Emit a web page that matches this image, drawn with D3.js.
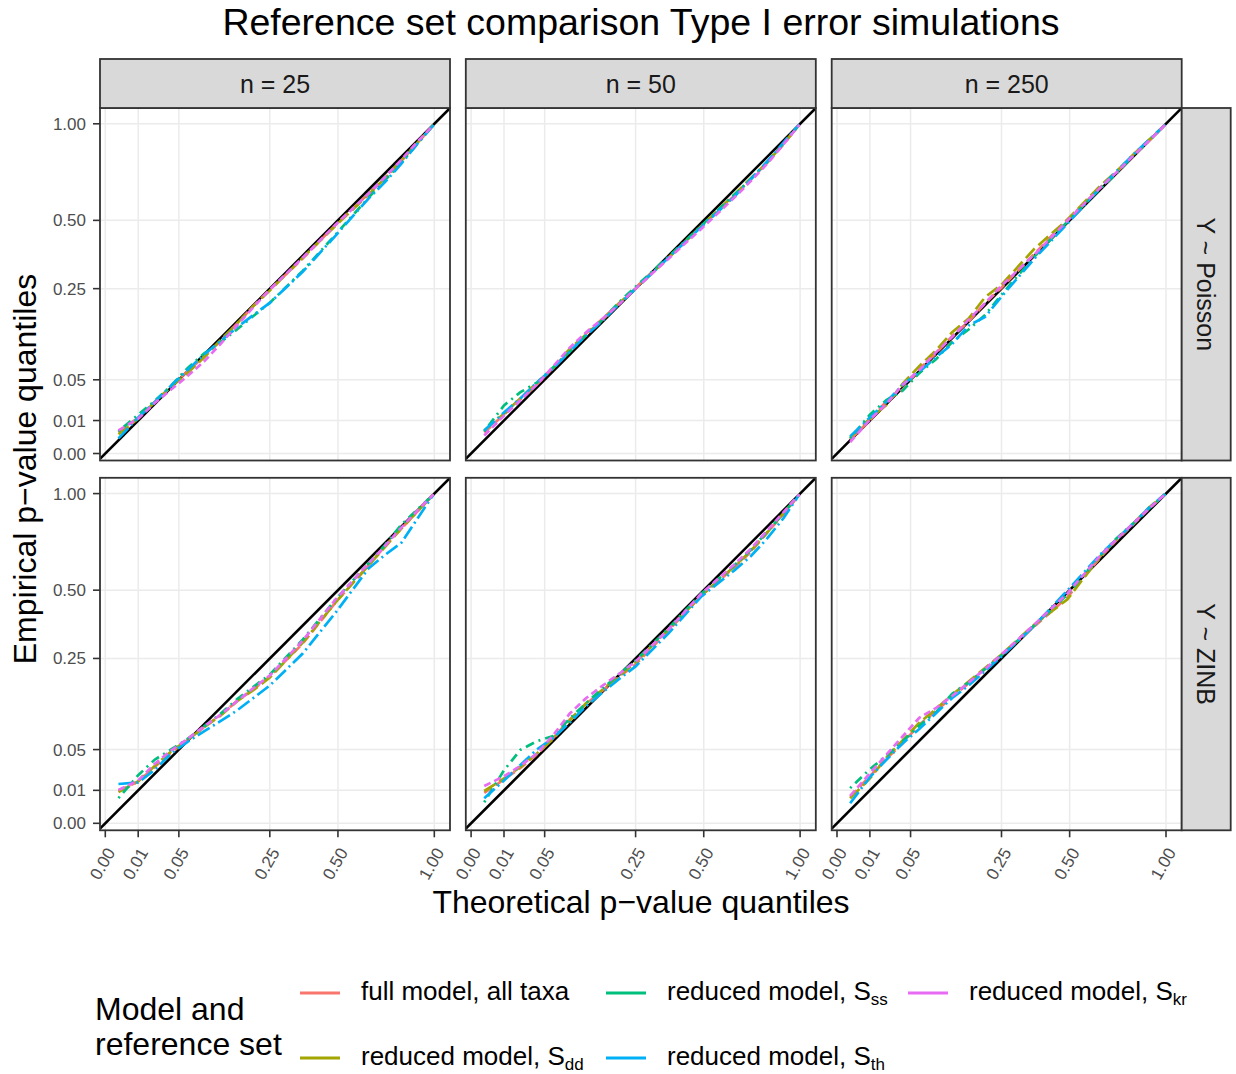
<!DOCTYPE html>
<html>
<head>
<meta charset="utf-8">
<script src="https://cdn.jsdelivr.net/npm/d3@7"></script>
<style>
  body { margin: 0; background: #fff; }
  text { font-family: "Liberation Sans", Arial, Helvetica, sans-serif; }
</style>
</head>
<body>
<svg id="chart" width="1236" height="1074"></svg>
<script>
// facets
const sampleSizes = ['n = 25', 'n = 50', 'n = 250']
const models = ['Y ~ Poisson', 'Y ~ ZINB']

// series (order = ggplot factor order)
const seriesLabels = ['full model, all taxa', 'reduced model, S', 'reduced model, S', 'reduced model, S', 'reduced model, S']
const seriesSubs = ['', 'dd', 'ss', 'th', 'kr']
const seriesColors = ['#F8766D', '#A3A500', '#00BF7D', '#00B0F6', '#E76BF3']
const seriesDash = ['9,5', '13,5', '2,5,9,5', '14,4,2,4', '7,4']

// axis ticks
const tickValues = [0, 0.01, 0.05, 0.25, 0.5, 1]

// theoretical quantiles (shared by every series)
const theoretical = [0.0016, 0.01, 0.0225, 0.04, 0.0625, 0.09, 0.1225, 0.16, 0.2025, 0.25, 0.36, 0.49, 0.64, 0.7225, 0.81, 0.9025, 0.995]

// empirical quantiles, one row per series: full, dd, ss, th, kr
const poisson25 = [
  [0.0041, 0.0119, 0.0243, 0.0412, 0.0625, 0.0864, 0.1163, 0.1552, 0.1998, 0.2470, 0.3493, 0.4816, 0.6209, 0.6972, 0.7885, 0.8911, 0.992],
  [0.0034, 0.0112, 0.0243, 0.0412, 0.0595, 0.0847, 0.1183, 0.1552, 0.1998, 0.2440, 0.3528, 0.4775, 0.6162, 0.6972, 0.7885, 0.8911, 0.992],
  [0.0045, 0.0139, 0.0253, 0.0424, 0.0671, 0.0918, 0.1142, 0.1414, 0.1739, 0.2088, 0.3069, 0.4409, 0.6022, 0.6872, 0.7779, 0.8855, 0.992],
  [0.0021, 0.0119, 0.0243, 0.0424, 0.0640, 0.0900, 0.1163, 0.1459, 0.1764, 0.2088, 0.3036, 0.4369, 0.5975, 0.6773, 0.7726, 0.8855, 0.992],
  [0.0049, 0.0112, 0.0234, 0.0376, 0.0552, 0.0778, 0.1102, 0.1505, 0.1971, 0.2470, 0.3528, 0.4816, 0.6209, 0.7022, 0.7939, 0.8968, 0.992]
]
const poisson50 = [
  [0.0041, 0.0139, 0.0272, 0.0437, 0.0686, 0.0973, 0.1332, 0.1673, 0.2079, 0.2530, 0.3528, 0.4733, 0.6115, 0.6922, 0.7779, 0.8798, 0.994],
  [0.0049, 0.0146, 0.0282, 0.0462, 0.0671, 0.1011, 0.1310, 0.1648, 0.2079, 0.2500, 0.3528, 0.4775, 0.6162, 0.6972, 0.7779, 0.8855, 0.994],
  [0.0045, 0.0213, 0.0346, 0.0462, 0.0686, 0.0955, 0.1289, 0.1648, 0.2107, 0.2560, 0.3564, 0.4775, 0.6162, 0.6922, 0.7832, 0.8855, 0.994],
  [0.0049, 0.0154, 0.0282, 0.0462, 0.0671, 0.0955, 0.1289, 0.1624, 0.2052, 0.2500, 0.3528, 0.4733, 0.6068, 0.6922, 0.7832, 0.8911, 0.996],
  [0.0030, 0.0132, 0.0262, 0.0437, 0.0702, 0.1030, 0.1354, 0.1673, 0.2052, 0.2500, 0.3493, 0.4651, 0.6022, 0.6823, 0.7726, 0.8798, 0.994]
]
const poisson250 = [
  [0.0018, 0.0100, 0.0253, 0.0376, 0.0655, 0.0918, 0.1267, 0.1600, 0.2079, 0.2530, 0.3672, 0.5027, 0.6496, 0.7276, 0.8154, 0.9025, 0.995],
  [0.0024, 0.0112, 0.0216, 0.0449, 0.0702, 0.0973, 0.1354, 0.1673, 0.2247, 0.2621, 0.3856, 0.5027, 0.6593, 0.7327, 0.8208, 0.9082, 0.995],
  [0.0021, 0.0139, 0.0262, 0.0365, 0.0595, 0.0812, 0.1142, 0.1414, 0.1764, 0.2323, 0.3564, 0.4942, 0.6448, 0.7225, 0.8154, 0.9025, 0.995],
  [0.0027, 0.0119, 0.0243, 0.0437, 0.0610, 0.0847, 0.1102, 0.1505, 0.1714, 0.2266, 0.3493, 0.4858, 0.6496, 0.7327, 0.8208, 0.9082, 0.995],
  [0.0012, 0.0106, 0.0225, 0.0437, 0.0640, 0.0936, 0.1246, 0.1648, 0.2079, 0.2591, 0.3636, 0.4984, 0.6496, 0.7276, 0.8154, 0.9025, 0.995]
]
const zinb25 = [
  [0.0096, 0.0161, 0.0292, 0.0462, 0.0640, 0.0847, 0.1082, 0.1369, 0.1656, 0.1980, 0.2970, 0.4489, 0.6115, 0.7073, 0.7992, 0.8968, 0.995],
  [0.0090, 0.0161, 0.0303, 0.0475, 0.0640, 0.0847, 0.1063, 0.1369, 0.1632, 0.1954, 0.3003, 0.4489, 0.6115, 0.7022, 0.7992, 0.8968, 0.995],
  [0.0058, 0.0213, 0.0372, 0.0502, 0.0655, 0.0864, 0.1102, 0.1414, 0.1714, 0.2034, 0.3102, 0.4610, 0.6209, 0.7123, 0.8208, 0.9082, 0.995],
  [0.0142, 0.0154, 0.0262, 0.0449, 0.0610, 0.0778, 0.0961, 0.1170, 0.1444, 0.1747, 0.2652, 0.4083, 0.5975, 0.6626, 0.7242, 0.8575, 0.995],
  [0.0102, 0.0169, 0.0324, 0.0488, 0.0655, 0.0864, 0.1082, 0.1369, 0.1681, 0.2007, 0.3069, 0.4610, 0.6209, 0.7073, 0.8046, 0.9025, 0.995]
]
const zinb50 = [
  [0.0085, 0.0177, 0.0282, 0.0437, 0.0671, 0.0992, 0.1310, 0.1624, 0.1971, 0.2323, 0.3422, 0.4775, 0.6022, 0.6773, 0.7779, 0.8798, 0.995],
  [0.0096, 0.0185, 0.0292, 0.0449, 0.0655, 0.0973, 0.1332, 0.1648, 0.1998, 0.2381, 0.3457, 0.4775, 0.6068, 0.6823, 0.7779, 0.8855, 0.995],
  [0.0041, 0.0259, 0.0497, 0.0620, 0.0702, 0.1011, 0.1332, 0.1673, 0.2052, 0.2440, 0.3493, 0.4858, 0.6115, 0.6872, 0.7832, 0.8855, 0.995],
  [0.0058, 0.0169, 0.0313, 0.0502, 0.0671, 0.0936, 0.1267, 0.1576, 0.1918, 0.2266, 0.3318, 0.4733, 0.5883, 0.6561, 0.7465, 0.8575, 0.995],
  [0.0128, 0.0204, 0.0303, 0.0449, 0.0718, 0.1109, 0.1444, 0.1747, 0.2052, 0.2411, 0.3457, 0.4858, 0.6162, 0.6922, 0.7885, 0.8911, 0.995]
]
const zinb250 = [
  [0.0064, 0.0204, 0.0384, 0.0590, 0.0894, 0.1156, 0.1467, 0.1798, 0.2190, 0.2621, 0.3564, 0.4692, 0.6496, 0.7379, 0.8208, 0.9139, 0.997],
  [0.0058, 0.0185, 0.0396, 0.0635, 0.0930, 0.1197, 0.1521, 0.1849, 0.2218, 0.2621, 0.3636, 0.4610, 0.6545, 0.7430, 0.8263, 0.9197, 0.997],
  [0.0114, 0.0269, 0.0420, 0.0620, 0.0876, 0.1129, 0.1544, 0.1823, 0.2190, 0.2591, 0.3600, 0.4816, 0.6593, 0.7482, 0.8263, 0.9139, 0.997],
  [0.0037, 0.0196, 0.0372, 0.0590, 0.0818, 0.1109, 0.1444, 0.1747, 0.2134, 0.2560, 0.3600, 0.4984, 0.6642, 0.7430, 0.8263, 0.9197, 0.997],
  [0.0069, 0.0231, 0.0433, 0.0697, 0.1024, 0.1218, 0.1490, 0.1823, 0.2190, 0.2621, 0.3636, 0.4858, 0.6593, 0.7430, 0.8263, 0.9139, 0.997]
]
const panelData = [[poisson25, poisson50, poisson250], [zinb25, zinb50, zinb250]]

// layout
const panelW = 350
const panelH = 352.5
const colLeft = [100, 465.8, 831.7]
const rowTop = [108, 477.8]
const stripSize = 49

const svg = d3.select('#chart')
svg.append('rect').attr('width', 1236).attr('height', 1074).attr('fill', '#fff')

// sqrt axes with ggplot-like expansion (limits in sqrt units)
const signedSq = v => Math.sign(v) * v * v
const x = d3.scaleSqrt().domain([-0.0161, 1.0477].map(signedSq)).range([0, panelW])
const y = d3.scaleSqrt().domain([-0.0212, 1.0479].map(signedSq)).range([panelH, 0])
const fmt = d3.format('.2f')

const line = d3.line()
  .x(d => x(d[0]))
  .y(d => y(d[1]))

const defs = svg.append('defs')
defs.append('clipPath').attr('id', 'panel-clip')
  .append('rect').attr('width', panelW).attr('height', panelH)

models.forEach((model, r) => {
  sampleSizes.forEach((n, c) => {
    const g = svg.append('g').attr('transform', `translate(${colLeft[c]},${rowTop[r]})`)

    g.append('rect').attr('width', panelW).attr('height', panelH).attr('fill', '#fff')

    // grid
    g.selectAll('line.gx').data(tickValues).enter().append('line')
      .attr('x1', d => x(d)).attr('x2', d => x(d))
      .attr('y1', 0).attr('y2', panelH)
      .attr('stroke', '#EBEBEB').attr('stroke-width', 1.5)
    g.selectAll('line.gy').data(tickValues).enter().append('line')
      .attr('y1', d => y(d)).attr('y2', d => y(d))
      .attr('x1', 0).attr('x2', panelW)
      .attr('stroke', '#EBEBEB').attr('stroke-width', 1.5)

    const inner = g.append('g').attr('clip-path', 'url(#panel-clip)')

    // reference y = x line
    const lims = x.domain()
    inner.append('path')
      .attr('d', line([[lims[0], lims[0]], [lims[1], lims[1]]]))
      .attr('fill', 'none').attr('stroke', '#000').attr('stroke-width', 2.6)

    // qq lines
    panelData[r][c].forEach((vals, i) => {
      inner.append('path')
        .attr('d', line(vals.map((v, j) => [theoretical[j], v])))
        .attr('fill', 'none')
        .attr('stroke', seriesColors[i])
        .attr('stroke-width', 2.7)
        .attr('stroke-dasharray', seriesDash[i])
    })

    g.append('rect').attr('width', panelW).attr('height', panelH)
      .attr('fill', 'none').attr('stroke', '#333333').attr('stroke-width', 1.8)

    // top strips
    if (r === 0) {
      const s = svg.append('g').attr('transform', `translate(${colLeft[c]},${rowTop[0] - stripSize})`)
      s.append('rect').attr('width', panelW).attr('height', stripSize)
        .attr('fill', '#D9D9D9').attr('stroke', '#333333').attr('stroke-width', 1.8)
      s.append('text').attr('x', panelW / 2).attr('y', stripSize / 2 + 9)
        .attr('text-anchor', 'middle').attr('font-size', 25).attr('fill', '#1A1A1A')
        .text(n)
    }

    // right strips
    if (c === 2) {
      const s = svg.append('g').attr('transform', `translate(${colLeft[2] + panelW},${rowTop[r]})`)
      s.append('rect').attr('width', stripSize).attr('height', panelH)
        .attr('fill', '#D9D9D9').attr('stroke', '#333333').attr('stroke-width', 1.8)
      s.append('text')
        .attr('transform', `translate(${stripSize / 2 - 9},${panelH / 2}) rotate(90)`)
        .attr('text-anchor', 'middle').attr('font-size', 25).attr('fill', '#1A1A1A')
        .text(model)
    }

    // left axis
    if (c === 0) {
      g.selectAll('line.ty').data(tickValues).enter().append('line')
        .attr('x1', -7).attr('x2', 0)
        .attr('y1', d => y(d)).attr('y2', d => y(d))
        .attr('stroke', '#333333').attr('stroke-width', 1.6)
      g.selectAll('text.ty').data(tickValues).enter().append('text')
        .attr('x', -14).attr('y', d => y(d) + 6)
        .attr('text-anchor', 'end').attr('font-size', 17).attr('fill', '#4D4D4D')
        .text(fmt)
    }

    // bottom axis
    if (r === 1) {
      g.selectAll('line.tx').data(tickValues).enter().append('line')
        .attr('x1', d => x(d)).attr('x2', d => x(d))
        .attr('y1', panelH).attr('y2', panelH + 7)
        .attr('stroke', '#333333').attr('stroke-width', 1.6)
      g.selectAll('text.tx').data(tickValues).enter().append('text')
        .attr('transform', d => `translate(${x(d) + 10.5},${panelH + 22}) rotate(-60)`)
        .attr('text-anchor', 'end').attr('font-size', 17).attr('fill', '#4D4D4D')
        .text(fmt)
    }
  })
})

// titles
svg.append('text').attr('x', 641).attr('y', 35)
  .attr('text-anchor', 'middle').attr('font-size', 37.5).attr('fill', '#000')
  .text('Reference set comparison Type I error simulations')

svg.append('text').attr('x', 641).attr('y', 913)
  .attr('text-anchor', 'middle').attr('font-size', 32).attr('fill', '#000')
  .text('Theoretical p\u2212value quantiles')

svg.append('text').attr('transform', 'translate(36,469) rotate(-90)')
  .attr('text-anchor', 'middle').attr('font-size', 32).attr('fill', '#000')
  .text('Empirical p\u2212value quantiles')

// legend
const legend = svg.append('g')
legend.append('text').attr('x', 95).attr('y', 1020).attr('font-size', 32).text('Model and')
legend.append('text').attr('x', 95).attr('y', 1055).attr('font-size', 32).text('reference set')

const keyX = [300, 300, 606, 606, 908]
const keyY = [993, 1058, 993, 1058, 993]
seriesLabels.forEach((lab, i) => {
  legend.append('line')
    .attr('x1', keyX[i]).attr('x2', keyX[i] + 40)
    .attr('y1', keyY[i]).attr('y2', keyY[i])
    .attr('stroke', seriesColors[i]).attr('stroke-width', 3)
  const t = legend.append('text').attr('x', keyX[i] + 61).attr('y', keyY[i] + 7)
    .attr('font-size', 26).attr('fill', '#000')
  t.append('tspan').text(lab)
  if (seriesSubs[i]) {
    t.append('tspan').attr('font-size', 17).attr('dy', 5).text(seriesSubs[i])
  }
})
</script>
</body>
</html>
